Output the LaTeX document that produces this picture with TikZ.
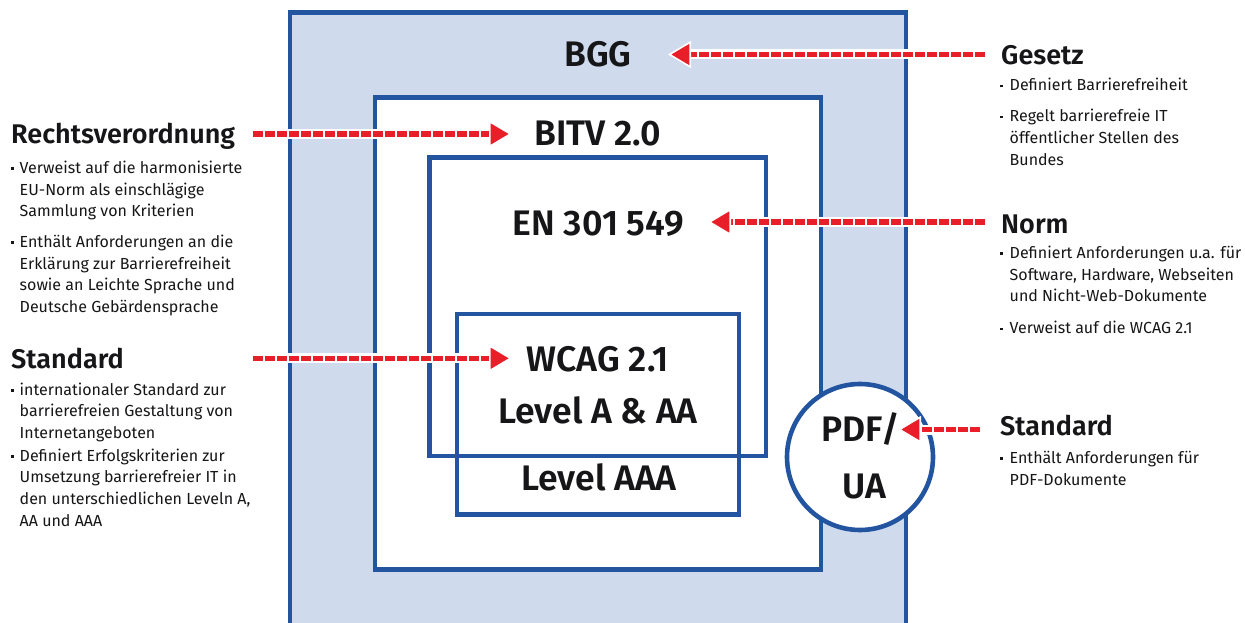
\documentclass[tikz,border=0pt]{standalone}
\usepackage{fontspec}
\setmainfont{Fira Sans}[BoldFont={Fira Sans SemiBold}]
\usetikzlibrary{arrows.meta}

\definecolor{bundblue}{RGB}{35,84,160}
\definecolor{paleblue}{RGB}{207,218,237}
\definecolor{signalred}{RGB}{232,30,40}
\definecolor{ink}{RGB}{22,22,24}

% small square used as list marker
\newcommand\dotmark{\raisebox{3.3pt}{\rule{2.6pt}{2.6pt}}}

\begin{document}
\begin{tikzpicture}[x=1pt, y=-1pt,
  frame/.style={draw=bundblue, line width=4.6pt, inner sep=0, outer sep=0},
  boxtitle/.style={font=\fontsize{35.5}{40}\selectfont\bfseries, text=ink, inner sep=0, anchor=base},
  heading/.style={font=\fontsize{27}{30}\selectfont\bfseries, text=ink, inner sep=0, anchor=base west},
  body/.style={font=\fontsize{16}{21.7}\selectfont, text=ink, inner sep=0, anchor=base west},
  halo/.style={draw=white, line width=10pt, shorten >=18pt},
  link/.style={draw=signalred, line width=5.5pt, dash pattern=on 10pt off 2pt,
    -{Triangle[length=23pt,width=27pt,fill=signalred,color=white,line width=1.6pt]}},
]
\useasboundingbox (0,0) rectangle (1245,623);
\begin{scope}
\clip (0,0) rectangle (1245,623);

% nested frames
\node[frame, fill=paleblue, minimum width=616pt, minimum height=640pt] (bgg) at (598,332.5) {};
\node[frame, fill=white, minimum width=446pt, minimum height=472pt] (bitv) at (598,333.5) {};
\node[frame, minimum width=336.5pt, minimum height=298.5pt] (en) at (597.75,306.75) {};
\node[frame, minimum width=282pt, minimum height=200.5pt] (wcag) at (598,414.25) {};
\node[frame, circle, fill=white, minimum size=146pt] (pdfua) at (860,457) {};
\end{scope}

% box labels
\node[boxtitle] (t-bgg) at (598,67) {BGG};
\node[boxtitle] (t-bitv) at (598,146) {BITV 2.0};
\node[boxtitle] (t-en) at (598.5,235) {EN 301 549};
\node[boxtitle] (t-wcag) at (597.5,371.7) {WCAG 2.1};
\node[boxtitle] (t-aa) at (598,423.3) {Level A \& AA};
\node[boxtitle] (t-aaa) at (599,490) {Level AAA};
\node[boxtitle] (t-pdf) at (860.5,441.7) {PDF/};
\node[boxtitle] (t-ua) at (864,498.3) {UA};

% side headings
\node[heading] (h-recht) at (11,143) {Rechtsverordnung};
\node[heading] (h-std1) at (11,368) {Standard};
\node[heading] (h-gesetz) at (1001,65) {Gesetz};
\node[heading] (h-norm) at (1001,233) {Norm};
\node[heading] (h-std2) at (1000,435) {Standard};

% descriptions
\node[body] (d-recht) at (11,173.3) {\begin{tabular}[t]{@{}p{8.5pt}@{}l@{}}
\dotmark & Verweist auf die harmonisierte\\
 & EU-Norm als einschlägige\\
 & Sammlung von Kriterien\\[9pt]
\dotmark & Enthält Anforderungen an die\\
 & Erklärung zur Barrierefreiheit\\
 & sowie an Leichte Sprache und\\
 & Deutsche Gebärdensprache
\end{tabular}};
\node[body] (d-std1) at (11,395) {\begin{tabular}[t]{@{}p{8.5pt}@{}l@{}}
\dotmark & internationaler Standard zur\\
 & barrierefreien Gestaltung von\\
 & Internetangeboten\\[1pt]
\dotmark & Definiert Erfolgskriterien zur\\
 & Umsetzung barrierefreier IT in\\
 & den unterschiedlichen Leveln A,\\
 & AA und AAA
\end{tabular}};
\node[body] (d-gesetz) at (1000,90.7) {\begin{tabular}[t]{@{}p{9.5pt}@{}l@{}}
\dotmark & Definiert Barrierefreiheit\\[9.3pt]
\dotmark & Regelt barrierefreie IT\\
 & öffentlicher Stellen des\\
 & Bundes
\end{tabular}};
\node[body] (d-norm) at (1000,258.3) {\begin{tabular}[t]{@{}p{9.5pt}@{}l@{}}
\dotmark & Definiert Anforderungen u.a. für\\
 & Software, Hardware, Webseiten\\
 & und Nicht-Web-Dokumente\\[10pt]
\dotmark & Verweist auf die WCAG 2.1
\end{tabular}};
\node[body] (d-std2) at (1000,463.3) {\begin{tabular}[t]{@{}p{9.5pt}@{}l@{}}
\dotmark & Enthält Anforderungen für\\
 & PDF-Dokumente
\end{tabular}};

% connector end points
\coordinate (a-gesetz) at (985,54.5);
\coordinate (p-bgg) at (668,54.5);
\coordinate (a-recht) at (253,134);
\coordinate (p-bitv) at (512,134);
\coordinate (a-norm) at (985,222);
\coordinate (p-en) at (708,222);
\coordinate (a-std1) at (253,358.3);
\coordinate (p-wcag) at (512,358.3);
\coordinate (a-std2) at (980,429.5);
\coordinate (p-pdf) at (898,429.5);

% dashed pointers with a white halo
\foreach \s/\t in {a-gesetz/p-bgg, a-recht/p-bitv, a-norm/p-en, a-std1/p-wcag, a-std2/p-pdf} {
  \draw[halo] (\s) -- (\t);
  \draw[link] (\s) -- (\t);
}
\end{tikzpicture}
\end{document}
